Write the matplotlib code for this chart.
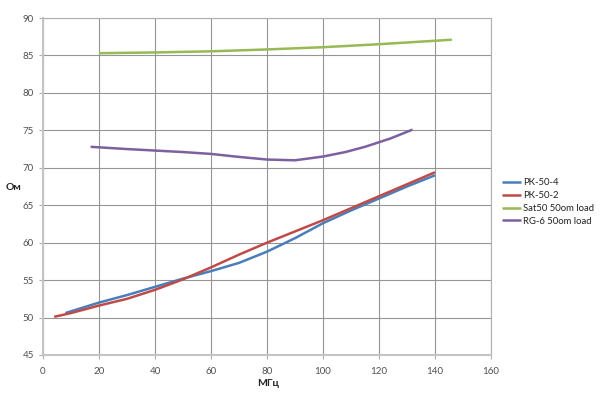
import matplotlib
matplotlib.use("Agg")
import matplotlib.pyplot as plt

plt.rcParams['font.family'] = ['Lato', 'DejaVu Sans']

# data
rk504_x = [8, 20, 30, 40, 50, 60, 70, 80, 90, 100, 110, 120, 130, 140]
rk504_y = [50.6, 52.0, 53.0, 54.1, 55.2, 56.2, 57.3, 58.8, 60.6, 62.6, 64.3, 65.9, 67.5, 69.0]
rk502_x = [4, 10, 20, 30, 40, 50, 60, 70, 80, 90, 100, 110, 120, 130, 140]
rk502_y = [50.1, 50.6, 51.6, 52.5, 53.7, 55.1, 56.7, 58.4, 60.0, 61.5, 63.0, 64.6, 66.2, 67.8, 69.4]
sat_x = [20, 40, 60, 80, 100, 120, 146]
sat_y = [85.3, 85.4, 85.55, 85.8, 86.1, 86.5, 87.1]
rg6_x = [17, 30, 40, 50, 60, 70, 80, 90, 100, 108, 115, 124, 132]
rg6_y = [72.8, 72.5, 72.3, 72.1, 71.85, 71.45, 71.1, 71.0, 71.5, 72.1, 72.8, 73.9, 75.1]

labels = ["РК-50-4", "РК-50-2", "Sat50 50om load", "RG-6 50om load"]
colors = ["#4a7ebb", "#be4b48", "#98b954", "#7d60a0"]
x_ticks = [0, 20, 40, 60, 80, 100, 120, 140, 160]
y_ticks = [45, 50, 55, 60, 65, 70, 75, 80, 85, 90]

fig = plt.figure(figsize=(6.0, 3.97), dpi=100)
ax = fig.add_axes([43/600, 1-355/397, (491-43)/600, (355-18)/397])

for (xs, ys), lab, c in zip([(rk504_x, rk504_y), (rk502_x, rk502_y), (sat_x, sat_y), (rg6_x, rg6_y)], labels, colors):
    ax.plot(xs, ys, color=c, lw=1.8, label=lab, solid_capstyle='butt')

ax.set_xlim(0, 160)
ax.set_ylim(45, 90)
ax.set_xticks(x_ticks)
ax.set_yticks(y_ticks)
ax.grid(True, color="#959595", lw=0.8)
ax.set_axisbelow(True)
for s in ax.spines.values():
    s.set_color("#b0b0b0")
    s.set_linewidth(0.8)
ax.spines['left'].set_color("#c4c4c4")
ax.spines['left'].set_linewidth(1.5)
ax.spines['bottom'].set_color("#c4c4c4")
ax.spines['bottom'].set_linewidth(1.5)
ax.tick_params(axis='both', labelsize=7, colors="#505050", length=3, color="#b0b0b0", direction='out')
ax.tick_params(axis='x', pad=6)

fig.text(268/600, 1-383/397, "МГц", ha='center', va='center', fontsize=7.5, fontweight='bold', color="#222222")
fig.text(14/600, 1-187/397, "Ом", ha='center', va='center', fontsize=7.5, fontweight='bold', color="#222222")

leg = ax.legend(loc='center left', bbox_to_anchor=(500/600, 1-202/397), bbox_transform=fig.transFigure,
                frameon=False, fontsize=6.8, handlelength=2.0, handletextpad=0.25, labelspacing=0.4,
                borderaxespad=0, borderpad=0.2)
for t in leg.get_texts():
    t.set_color("#222222")

fig.savefig("out.png", dpi=100, facecolor="white")
